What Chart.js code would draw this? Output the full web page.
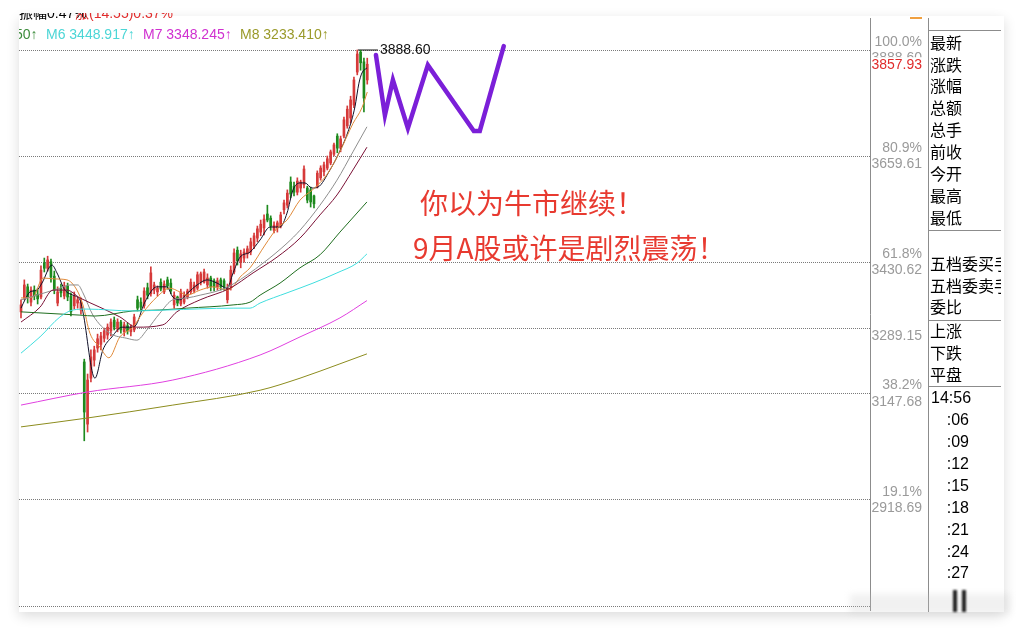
<!DOCTYPE html>
<html lang="zh-CN">
<head>
<meta charset="utf-8">
<title>K线图</title>
<script src="https://cdn.jsdelivr.net/npm/chart.js@4.4.1/dist/chart.umd.min.js"></script>
<style>
html,body{margin:0;padding:0;width:1018px;height:632px;overflow:hidden;background:#fff;}
body{position:relative;font-family:"Liberation Sans",Arial,sans-serif;}
#card{position:absolute;left:19px;top:16px;width:985px;height:596px;background:#fff;box-shadow:0 4px 12px rgba(0,0,0,0.14);}
#chart{position:absolute;left:0;top:0;}
.abs{position:absolute;white-space:nowrap;}
.legend{top:25px;font-size:14px;line-height:18px;}
#panel{position:absolute;left:928px;top:18px;width:72px;height:594px;border-left:1px solid #8c8c8c;overflow:hidden;}
#panel .r{position:absolute;left:1px;font-family:"Noto Sans CJK SC",sans-serif;font-size:16px;line-height:22px;color:#000;white-space:nowrap;}
#panel .tm{position:absolute;font-family:"Liberation Sans",Arial,sans-serif;font-size:16px;line-height:22px;color:#000;}
#panel .hl{position:absolute;left:0;width:72px;height:1px;background:#8c8c8c;}
.note{font-family:"Noto Sans CJK SC",sans-serif;font-size:28px;line-height:34px;color:#e83a30;}
</style>
</head>
<body>
<div id="card"></div>
<canvas id="chart" width="1018" height="632"></canvas>

<!-- clipped header row -->
<div class="abs" style="left:19px;top:13px;width:300px;height:8px;overflow:hidden;">
  <span class="abs" style="left:0;top:-9px;font-size:14px;line-height:18px;color:#000;">振幅0.47%</span>
  <span class="abs" style="left:56px;top:-9px;font-size:14px;line-height:18px;color:#e02b2b;">涨(14.55)0.37%</span>
</div>

<!-- MA legend row -->
<div class="abs" style="left:19px;top:25px;width:24px;height:18px;overflow:hidden;"><span class="abs" style="left:-4px;top:0;font-size:14px;line-height:18px;color:#3c8c3c;">50↑</span></div>
<div class="abs legend" style="left:46px;color:#4cd6d6;">M6 3448.917↑</div>
<div class="abs legend" style="left:143px;color:#d030d0;">M7 3348.245↑</div>
<div class="abs legend" style="left:240px;color:#9a9a2a;">M8 3233.410↑</div>

<!-- annotation -->
<div class="abs note" style="left:420px;top:185px;">你以为牛市继续！</div>
<div class="abs note" style="left:413px;top:230px;">9月A股或许是剧烈震荡！</div>

<div class="abs" style="left:910px;top:17px;width:12px;height:2px;background:#f0a040;"></div>

<!-- right info panel -->
<div id="panel">
  <div class="hl" style="top:12px;"></div>
  <div class="r" style="top:13px;">最新</div>
  <div class="r" style="top:35px;">涨跌</div>
  <div class="r" style="top:56px;">涨幅</div>
  <div class="r" style="top:78px;">总额</div>
  <div class="r" style="top:100px;">总手</div>
  <div class="r" style="top:122px;">前收</div>
  <div class="r" style="top:144px;">今开</div>
  <div class="r" style="top:166px;">最高</div>
  <div class="r" style="top:188px;">最低</div>
  <div class="hl" style="top:212px;"></div>
  <div class="r" style="top:234px;">五档委买手</div>
  <div class="r" style="top:256px;">五档委卖手</div>
  <div class="r" style="top:277px;">委比</div>
  <div class="hl" style="top:302px;"></div>
  <div class="r" style="top:301px;">上涨</div>
  <div class="r" style="top:323px;">下跌</div>
  <div class="r" style="top:345px;">平盘</div>
  <div class="hl" style="top:368px;"></div>
  <div class="tm" style="top:369px;left:2px;">14:56</div>
  <div class="tm" style="top:391px;right:32px;">:06</div>
  <div class="tm" style="top:413px;right:32px;">:09</div>
  <div class="tm" style="top:435px;right:32px;">:12</div>
  <div class="tm" style="top:457px;right:32px;">:15</div>
  <div class="tm" style="top:479px;right:32px;">:18</div>
  <div class="tm" style="top:501px;right:32px;">:21</div>
  <div class="tm" style="top:523px;right:32px;">:24</div>
  <div class="tm" style="top:544px;right:32px;">:27</div>
</div>

<!-- blurred bottom strip -->
<div class="abs" style="left:850px;top:594px;width:160px;height:20px;background:rgba(200,200,200,0.25);filter:blur(3px);"></div>
<div class="abs" style="left:953px;top:590px;width:4px;height:22px;background:#222;filter:blur(1px);"></div>
<div class="abs" style="left:962px;top:590px;width:4px;height:22px;background:#222;filter:blur(1px);"></div>

<script>
// ---------- candle data (index 0..104) ----------
const openPrices = [
 3324,3354,3378,3345,3371,3362,3356,3429,3418,3432,
 3401,3343,3375,3358,3380,3358,3337,3343,3328,3216,
 3082,3181,3220,3246,3254,3267,3274,3283,3306,3287,
 3302,3281,3294,3281,3285,3350,3345,3337,3376,3363,
 3371,3367,3388,3367,3393,3386,3339,3356,3341,3345,
 3356,3367,3369,3375,3388,3388,3382,3397,3391,3378,
 3393,3391,3350,3378,3410,3457,3431,3440,3449,3453,
 3466,3483,3496,3505,3535,3526,3500,3505,3509,3544,
 3554,3604,3595,3582,3591,3598,3591,3587,3574,3595,
 3613,3626,3634,3645,3664,3703,3677,3703,3725,3742,
 3770,3841,3884,3863,3824];
const highPrices = [
 3350,3393,3384,3378,3380,3375,3423,3440,3444,3438,
 3412,3378,3384,3388,3386,3365,3367,3356,3354,3222,
 3190,3242,3250,3276,3280,3289,3298,3309,3313,3309,
 3306,3302,3300,3296,3319,3358,3354,3376,3386,3421,
 3388,3380,3395,3391,3399,3395,3367,3358,3373,3367,
 3373,3395,3388,3410,3410,3416,3406,3401,3395,3397,
 3397,3395,3384,3423,3460,3464,3457,3460,3466,3483,
 3494,3509,3522,3533,3554,3531,3518,3520,3539,3565,
 3587,3615,3604,3613,3608,3639,3595,3593,3576,3628,
 3639,3647,3660,3673,3688,3708,3703,3744,3768,3789,
 3830,3888.6,3888,3871,3871];
const lowPrices = [
 3311,3350,3343,3337,3350,3341,3352,3410,3412,3388,
 3363,3337,3356,3352,3348,3315,3330,3332,3319,3046,
 3065,3173,3207,3237,3242,3259,3265,3272,3285,3281,
 3278,3272,3276,3272,3281,3326,3326,3332,3352,3358,
 3363,3358,3369,3363,3373,3363,3332,3337,3337,3341,
 3352,3363,3365,3371,3382,3386,3375,3369,3369,3371,
 3371,3371,3343,3371,3406,3425,3419,3431,3440,3447,
 3460,3475,3488,3490,3518,3500,3494,3496,3505,3535,
 3548,3570,3574,3576,3582,3591,3559,3550,3548,3591,
 3608,3617,3630,3641,3660,3667,3669,3699,3720,3731,
 3764,3835,3845,3755,3815];
const closePrices = [
 3339,3382,3356,3371,3358,3352,3414,3418,3436,3399,
 3371,3367,3365,3380,3356,3324,3358,3350,3345,3108,
 3177,3227,3242,3266,3272,3283,3291,3302,3291,3302,
 3285,3296,3283,3291,3313,3332,3334,3369,3360,3408,
 3382,3375,3373,3384,3380,3369,3360,3343,3367,3360,
 3369,3388,3382,3404,3406,3410,3397,3378,3378,3391,
 3378,3378,3375,3414,3451,3434,3449,3453,3460,3475,
 3488,3503,3513,3524,3522,3509,3511,3516,3533,3559,
 3580,3578,3582,3606,3604,3632,3565,3561,3557,3623,
 3634,3641,3654,3669,3684,3677,3697,3738,3761,3781,
 3824,3880,3861,3785,3857.93];

// ---------- moving-average lines (read at sample positions) ----------
const ma1Idx = [0,1.2,2.7,4.8,6.3,9.3,10.8,13.2,15.6,17.7,18.6,22.2,24.6,27.3,30.3,32.7,34.2,37.2,40.8,43.8,45.6,47.7,50.1,52.9,55.9,58.9,61.9,63.7,65.8,68.8,71.8,74.8,77.8,79.9,81.7,83.8,85.3,87.4,89.2,92.8,95.2,98.2,100.3,101.5,102.4,103.9];
const ma1Val = [3332,3350,3367,3371,3386,3425,3408,3371,3360,3350,3324,3181,3242,3270,3291,3291,3293,3345,3378,3378,3356,3350,3365,3382,3393,3386,3375,3408,3442,3453,3479,3507,3507,3537,3587,3602,3602,3591,3593,3630,3662,3712,3766,3817,3839,3850];
const ma2Idx = [0,3.6,6.6,10.2,13.8,16.8,18.6,20.7,23.7,26.4,29.7,33.6,36.6,40.8,44.7,47.7,49.8,53.8,57.7,61.9,63.7,65.8,68.8,73.3,77,79.9,83.8,87.7,91.9,95.8,99.7,102.4,104];
const ma2Val = [3354,3356,3397,3395,3393,3371,3339,3278,3248,3225,3270,3291,3322,3356,3375,3367,3360,3371,3378,3371,3378,3399,3419,3468,3505,3522,3565,3588,3620,3670,3730,3764,3798];
const ma3Idx = [0,11.7,14.7,17.1,18.6,21.6,26.7,31.8,34.8,37.8,41.7,45.6,49.8,53.8,59.8,63.7,72.7,79.9,83.8,89.8,94.9,99.7,103.9];
const ma3Val = [3350,3375,3382,3382,3365,3317,3278,3267,3263,3285,3321,3350,3354,3360,3371,3384,3429,3472,3500,3554,3608,3669,3723];
const ma4Idx = [0,5.7,9.6,13.8,17.7,23.7,29.7,34.8,42.6,46.8,53.8,62.8,69.7,76.9,83.8,89.8,94.9,99.7,103.9];
const ma4Val = [3302,3334,3371,3371,3354,3334,3313,3291,3296,3324,3350,3375,3408,3442,3483,3533,3576,3630,3679];
const ma5Idx = [0,17.7,22.2,33.6,41.7,49.8,63.7,68.8,71.8,77.8,83.8,89.8,95.8,103.9];
const ma5Val = [3324,3317,3315,3326,3328,3332,3339,3345,3360,3386,3419,3447,3496,3561];
const m6Idx = [0,5.7,11.7,15.6,19.8,33.6,43.8,63.7,68.8,71.8,79.9,87.7,94.9,100.9,103.9];
const m6Val = [3235,3270,3313,3328,3330,3326,3328,3332,3332,3343,3365,3386,3408,3429,3448.917];
const m7Idx = [0,19.8,45.6,71.8,83.8,95.8,103.9];
const m7Val = [3123,3151,3177,3231,3270,3311,3348.245];
const m8Idx = [0,19.8,45.6,71.8,83.8,95.8,103.9];
const m8Val = [3076,3095,3123,3155,3181,3212,3233.410];

// ---------- hand-drawn zigzag & high marker ----------
const zigIdx = [106.6,109.3,111.7,116.2,122.2,136.0,137.8,145.0];
const zigVal = [3878,3748,3824,3720,3856,3714,3714,3897];
const peakIdx = [101.2,107.2];
const peakVal = 3888.60;
const lastPrice = 3857.93;

// ---------- Fibonacci levels / axis labels ----------
const fibLevels = ['', '19.1%', '38.2%', '', '61.8%', '80.9%', '100.0%'];
const fibValues = [2689.70, 2918.69, 3147.68, 3289.15, 3430.62, 3659.61, 3888.60];
const fibShowValue = [false, true, true, true, true, true, true];

const yMin = 2681.2, yMax = 3957.6;
const xMin = -0.6, xMax = 255;

const upColor = '#d63a3a', downColor = '#1e8a1e';
const candleColors = closePrices.map((c, i) => c >= openPrices[i] ? upColor : downColor);
const pts = (idx, val) => idx.map((x, i) => ({x, y: val[i]}));
const maLine = (idx, val, color) => ({
  type: 'line', data: pts(idx, val), borderColor: color, borderWidth: 1,
  pointRadius: 0, cubicInterpolationMode: 'monotone', fill: false
});

const overlayText = {
  id: 'overlayText',
  afterDraw(chart) {
    const {ctx, scales: {x, y}} = chart;
    ctx.save();
    ctx.font = '14px "Liberation Sans", Arial, sans-serif';
    ctx.textBaseline = 'middle';
    ctx.fillStyle = '#111';
    ctx.textAlign = 'left';
    ctx.fillText(peakVal.toFixed(2), x.getPixelForValue(peakIdx[1]) + 2, y.getPixelForValue(peakVal));
    const ly = y.getPixelForValue(lastPrice);
    ctx.fillStyle = '#fff';
    ctx.fillRect(y.left + 1, ly - 7, 54, 14);
    ctx.fillStyle = '#e02b2b';
    ctx.textAlign = 'right';
    ctx.fillText(lastPrice.toFixed(2), y.right, ly + 0.5);
    ctx.restore();
  }
};

Chart.defaults.font.family = '"Liberation Sans", Arial, sans-serif';

new Chart(document.getElementById('chart'), {
  type: 'bar',
  data: {
    datasets: [
      maLine(m8Idx, m8Val, '#8c8c1e'),
      maLine(m7Idx, m7Val, '#e040e0'),
      maLine(m6Idx, m6Val, '#3fdede'),
      maLine(ma5Idx, ma5Val, '#1f6e1f'),
      maLine(ma4Idx, ma4Val, '#7a1035'),
      maLine(ma3Idx, ma3Val, '#8e8e8e'),
      maLine(ma2Idx, ma2Val, '#e08a3a'),
      maLine(ma1Idx, ma1Val, '#101028'),
      {
        type: 'bar', grouped: false, barThickness: 1,
        data: lowPrices.map((l, i) => ({x: i, y: [l, highPrices[i]]})),
        backgroundColor: candleColors, borderWidth: 0
      },
      {
        type: 'bar', grouped: false, barThickness: 2, minBarLength: 1,
        data: openPrices.map((o, i) => ({x: i, y: [o, closePrices[i]]})),
        backgroundColor: candleColors, borderWidth: 0
      },
      {
        type: 'line', data: pts(peakIdx, [peakVal, peakVal]), borderColor: '#111',
        borderWidth: 1, pointRadius: 0, tension: 0
      },
      {
        type: 'line', data: pts(zigIdx, zigVal), borderColor: '#7b1fd8',
        borderWidth: 4.5, pointRadius: 0, tension: 0,
        borderCapStyle: 'round', borderJoinStyle: 'miter'
      }
    ]
  },
  options: {
    responsive: false,
    animation: false,
    events: [],
    layout: {padding: {left: 19, top: 18, right: 96, bottom: 22}},
    plugins: {legend: {display: false}, tooltip: {enabled: false}},
    scales: {
      x: {type: 'linear', min: xMin, max: xMax, display: false, offset: false},
      y: {
        type: 'linear', position: 'right', min: yMin, max: yMax,
        afterFit: s => { s.width = 52; },
        afterBuildTicks: s => { s.ticks = fibValues.map(v => ({value: v})); },
        grid: {color: '#7a7a7a', lineWidth: 1, drawTicks: false},
        border: {display: true, color: '#8c8c8c', width: 1, dash: [1, 1]},
        ticks: {
          autoSkip: false, padding: 1, crossAlign: 'far', color: '#9a9a9a',
          font: {size: 14, lineHeight: 1.15},
          callback: (v, i) => [fibLevels[i], fibShowValue[i] ? fibValues[i].toFixed(2) : '']
        }
      }
    }
  },
  plugins: [overlayText]
});
</script>
</body>
</html>
